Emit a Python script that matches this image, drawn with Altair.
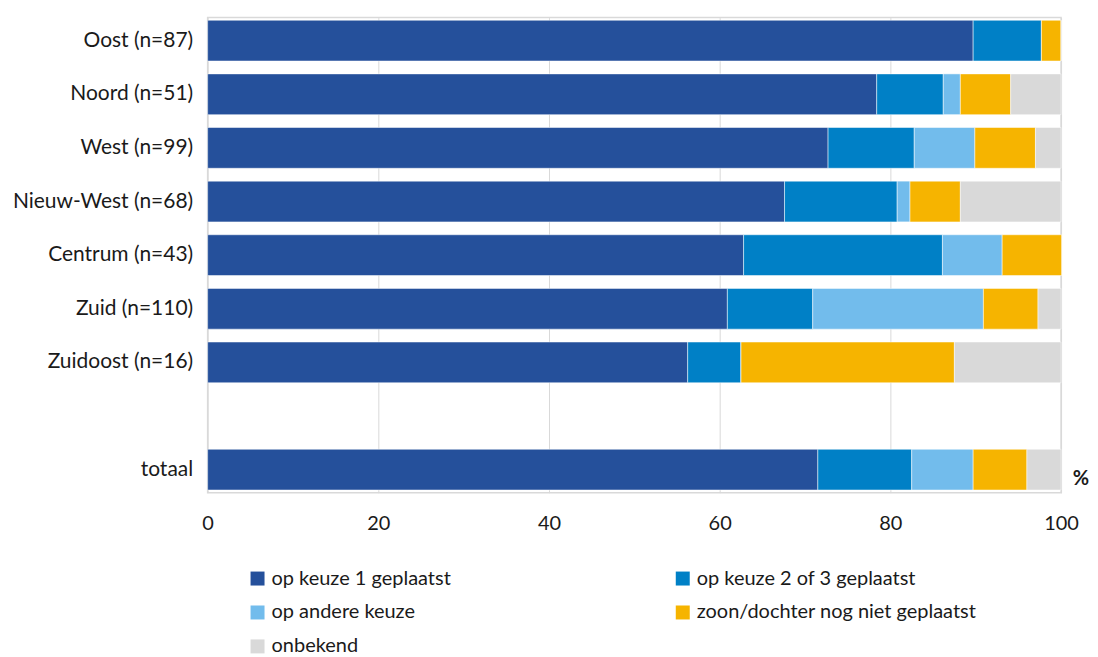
import altair as alt
import pandas as pd

regions = ["Oost (n=87)", "Noord (n=51)", "West (n=99)", "Nieuw-West (n=68)",
           "Centrum (n=43)", "Zuid (n=110)", "Zuidoost (n=16)", "totaal"]
y_domain = regions[:7] + [" "] + ["totaal"]

series = ["op keuze 1 geplaatst", "op keuze 2 of 3 geplaatst", "op andere keuze",
          "zoon/dochter nog niet geplaatst", "onbekend"]
colors = ["#25509B", "#0080C6", "#72BCEC", "#F6B400", "#D9D9D9"]

keuze1 = [89.7, 78.4, 72.7, 67.6, 62.8, 60.9, 56.25, 71.5]
keuze23 = [8.0, 7.8, 10.1, 13.2, 23.3, 10.0, 6.25, 11.0]
andere = [0.0, 2.0, 7.1, 1.5, 7.0, 20.0, 0.0, 7.2]
niet = [2.3, 5.9, 7.1, 5.9, 7.0, 6.4, 25.0, 6.3]
onbekend = [0.0, 5.9, 3.0, 11.8, 0.0, 2.7, 12.5, 4.0]

rows = []
for i, r in enumerate(regions):
    for j, (s, vals) in enumerate(zip(series, [keuze1, keuze23, andere, niet, onbekend])):
        rows.append({"regio": r, "cat": s, "order": j, "value": vals[i]})
df = pd.DataFrame(rows)

FONT = "Lato"
TXT = "#1a1a1a"

bars = alt.Chart(df).mark_bar(stroke="white", strokeWidth=0.5).encode(
    x=alt.X("value:Q", stack="zero",
            scale=alt.Scale(domain=[0, 100], nice=False),
            axis=alt.Axis(values=[0, 20, 40, 60, 80, 100], title=None, grid=True,
                          gridColor="#D9D9D9", domain=False, ticks=False,
                          labelFlush=False,
                          labelPadding=21, labelFontSize=20, labelColor=TXT,
                          labelFont=FONT)),
    y=alt.Y("regio:N", sort=y_domain,
            scale=alt.Scale(domain=y_domain, paddingInner=0.24, paddingOuter=0.05),
            axis=alt.Axis(title=None, domain=False, ticks=False, labelPadding=15,
                          labelFontSize=21, labelColor=TXT, labelFont=FONT,
                          labelLimit=300, minExtent=200, maxExtent=200)),
    color=alt.Color("cat:N", scale=alt.Scale(domain=series, range=colors),
                    legend=alt.Legend(title=None, orient="none", legendX=40, legendY=552,
                                      columns=2, direction="horizontal",
                                      columnPadding=222, rowPadding=14,
                                      symbolType="square", symbolSize=196,
                                      symbolStrokeWidth=0,
                                      labelFontSize=20, labelFont=FONT,
                                      labelColor=TXT, labelLimit=400)),
    order=alt.Order("order:Q"),
)

pct_df = pd.DataFrame({"regio": ["totaal"], "value": [100], "label": ["%"]})
pct = alt.Chart(pct_df).mark_text(fontSize=20, fontWeight="bold", font=FONT,
                                  color=TXT, dx=20, dy=9).encode(
    x=alt.X("value:Q"), y=alt.Y("regio:N", sort=y_domain), text="label:N")

chart = alt.layer(bars, pct).properties(
    width=855, height=476,
    padding={"left": 0, "top": 9, "right": 0, "bottom": 0},
).configure_view(stroke="#D9D9D9", strokeWidth=1.5)

chart.save("out.html", embed_options={"renderer": "svg", "actions": False})
